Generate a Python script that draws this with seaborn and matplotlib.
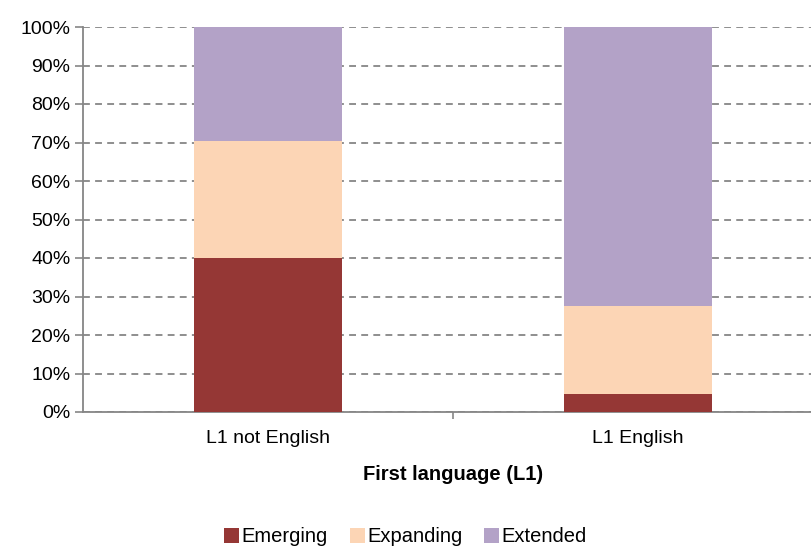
import numpy as np
import pandas as pd
import seaborn as sns
import matplotlib.pyplot as plt
from matplotlib.patches import Patch

# data (percent)
groups = ['L1 not English', 'L1 English']
emerging = [40.0, 4.8]
expanding = [30.5, 22.8]
extended = [29.5, 72.4]
levels = ['Emerging', 'Expanding', 'Extended']
colors = ['#953735', '#FCD5B5', '#B3A2C7']

sns.set_style('white')
plt.rcParams['font.family'] = ['Liberation Sans', 'DejaVu Sans']
plt.rcParams['text.color'] = 'black'
plt.rcParams['xtick.labelcolor'] = 'black'
plt.rcParams['ytick.labelcolor'] = 'black'
plt.rcParams['axes.labelcolor'] = 'black'

df = pd.DataFrame({'group': groups, 'Emerging': emerging,
                   'Expanding': expanding, 'Extended': extended})
# cumulative tops so bars can be drawn tallest first
df['top_emerging'] = df['Emerging']
df['top_expanding'] = df['Emerging'] + df['Expanding']
df['top_extended'] = df['top_expanding'] + df['Extended']

fig = plt.figure(figsize=(8.11, 5.46), dpi=100)
ax = fig.add_axes([83 / 811, 1 - 412 / 546, 740 / 811, 385 / 546])

for col, c in zip(['top_extended', 'top_expanding', 'top_emerging'], colors[::-1]):
    sns.barplot(data=df, x='group', y=col, color=c, saturation=1, width=0.4,
                ax=ax, zorder=3, linewidth=0)

fs = 14
ax.set_ylim(0, 100)
ax.set_xlim(-0.5, 1.5)
ax.set_yticks(np.arange(0, 101, 10))
ax.set_yticklabels([f'{v}%' for v in range(0, 101, 10)], fontsize=fs)
ax.set_xticks([0, 1])
ax.set_xticklabels(groups, fontsize=fs)
ax.tick_params(axis='x', which='major', length=0, pad=13)
ax.tick_params(axis='y', left=True, length=6, width=1.2, color='#868686',
               direction='out', pad=3)
ax.set_xticks([0.5], minor=True)
ax.tick_params(axis='x', which='minor', bottom=True, length=5, width=1.2,
               color='#868686', direction='out')

ax.yaxis.grid(True, color='#868686', linestyle=(0, (3.8, 2.9)), linewidth=1.3, zorder=0)
ax.set_axisbelow(True)

for s in ['top', 'right']:
    ax.spines[s].set_visible(False)
for s in ['left', 'bottom']:
    ax.spines[s].set_color('#868686')
    ax.spines[s].set_linewidth(1.3)

ax.set_ylabel('')
ax.set_xlabel('First language (L1)', fontsize=14.5, fontweight='bold', color='black')
ax.xaxis.set_label_coords((453 - 83) / 740, -0.138)

handles = [Patch(facecolor=c, edgecolor='none') for c in colors]
fig.legend(handles, levels, loc='center', bbox_to_anchor=(0.5, 1 - 537 / 546),
           ncol=3, frameon=False, fontsize=14.5, handlelength=0.75, handleheight=0.75,
           handletextpad=0.1, columnspacing=1.1, labelcolor='black')

plt.savefig('out.png', dpi=100)
